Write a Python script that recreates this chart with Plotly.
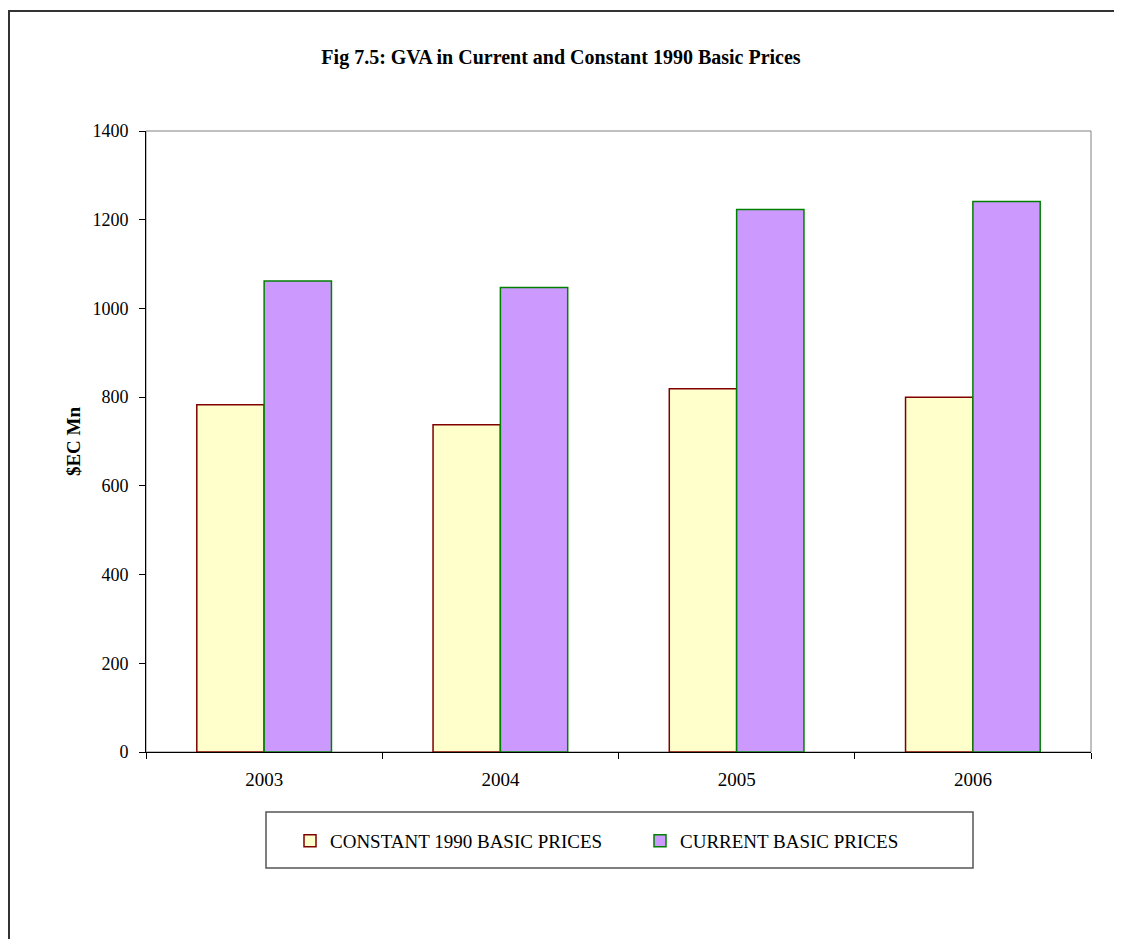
import plotly.graph_objects as go

years = ["2003", "2004", "2005", "2006"]
constant_1990 = [783, 738, 819, 800]
current = [1062, 1047, 1223, 1241]
series_names = ["CONSTANT 1990 BASIC PRICES", "CURRENT BASIC PRICES"]
y_ticks = [0, 200, 400, 600, 800, 1000, 1200, 1400]

FONT = "Liberation Serif, Times New Roman, serif"

# page offset caused by the default body margin of the HTML page
OFF = 8
W, H = 1122 - OFF, 939 - OFF
L, R, T, B = 146 - OFF, 1091 - OFF, 131 - OFF, 752 - OFF
pw, ph = R - L, B - T


def px_x(x):
    return (x - OFF - L) / pw


def px_y(y):
    return (B - (y - OFF)) / ph


fig = go.Figure()
fig.add_trace(go.Bar(
    x=years, y=constant_1990, name=series_names[0],
    marker=dict(color="#FFFFCC", line=dict(color="#800000", width=1.5)),
))
fig.add_trace(go.Bar(
    x=years, y=current, name=series_names[1],
    marker=dict(color="#CC99FF", line=dict(color="#008000", width=1.5)),
))

shapes = [
    # outer chart border (right/bottom run past the page)
    dict(type="rect", xref="paper", yref="paper",
         x0=px_x(9), y0=px_y(960), x1=px_x(1140), y1=px_y(11),
         line=dict(color="#333333", width=2), layer="below"),
    # plot area frame (gray)
    dict(type="rect", xref="paper", yref="paper",
         x0=0, y0=0, x1=1, y1=1,
         line=dict(color="#808080", width=1), layer="below"),
    # legend box
    dict(type="rect", xref="paper", yref="paper",
         x0=px_x(266), y0=px_y(868), x1=px_x(973), y1=px_y(812),
         line=dict(color="#555555", width=1.5), layer="below"),
]

fig.update_layout(
    width=W, height=H,
    margin=dict(l=L, r=W - R, t=T, b=H - B, pad=0),
    paper_bgcolor="white", plot_bgcolor="white",
    barmode="group", bargap=0.43, bargroupgap=0,
    font=dict(family=FONT, size=19, color="black"),
    title=dict(text="<b>Fig 7.5: GVA in Current and Constant 1990 Basic Prices</b>",
               x=(561 - OFF) / W, xref="container", xanchor="center",
               y=1 - (57 - OFF) / H, yref="container", yanchor="middle",
               font=dict(family=FONT, size=20, color="black")),
    xaxis=dict(
        showline=True, linecolor="black", linewidth=1,
        ticks="outside", tickson="boundaries", ticklen=6, tickcolor="black",
        showgrid=False, tickfont=dict(family=FONT, size=19),
        ticklabelstandoff=10,
    ),
    yaxis=dict(
        range=[0, 1400], tickvals=y_ticks,
        showline=True, linecolor="black", linewidth=1,
        ticks="outside", ticklen=6, tickcolor="black",
        showgrid=False, zeroline=False, tickfont=dict(family=FONT, size=18),
        ticklabelstandoff=7,
        title=dict(text="<b>$EC Mn</b>", font=dict(family=FONT, size=19), standoff=6),
    ),
    legend=dict(
        orientation="h", x=px_x(290), xanchor="left", y=px_y(841), yanchor="middle",
        bgcolor="rgba(0,0,0,0)", borderwidth=0,
        font=dict(family=FONT, size=19), entrywidth=305, entrywidthmode="pixels",
        traceorder="normal",
    ),
    shapes=shapes,
)

fig.write_html("out.html")
